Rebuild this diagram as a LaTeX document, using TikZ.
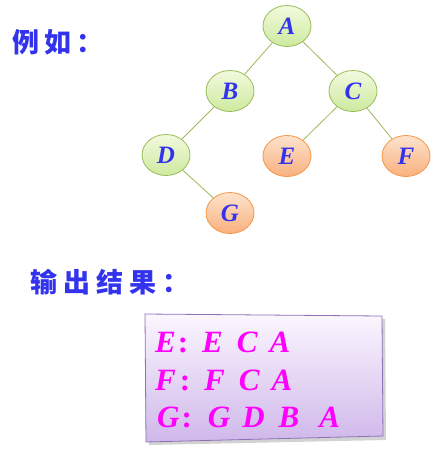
\documentclass[tikz,border=0pt]{standalone}
\usepackage{fontspec}
\setmainfont{Liberation Serif}
\newfontfamily\cjk{Noto Sans CJK SC}
\usetikzlibrary{shapes.geometric,shadows}
\definecolor{txtblue}{HTML}{3333EE}
\definecolor{mag}{HTML}{FF00FF}
\definecolor{gfill1}{HTML}{F2FADF}
\definecolor{gfill2}{HTML}{CDEA9E}
\definecolor{gdraw}{HTML}{9BBB59}
\definecolor{ofill1}{HTML}{FDE3CC}
\definecolor{ofill2}{HTML}{F9B07E}
\definecolor{odraw}{HTML}{F79646}
\definecolor{bfill1}{HTML}{FBF6FE}
\definecolor{bfill2}{HTML}{CFB8EA}
\definecolor{bdraw}{HTML}{8E72B6}
\tikzset{
  treenode/.style={ellipse, minimum width=48pt, minimum height=41pt, inner sep=0pt,
    line width=0.8pt, font=\fontsize{25}{27}\selectfont\bfseries\itshape, text=txtblue},
  gnode/.style={treenode, draw=gdraw, top color=gfill1, bottom color=gfill2},
  onode/.style={treenode, draw=odraw, top color=ofill1, bottom color=ofill2},
  edge/.style={draw=gdraw, line width=0.8pt},
  cjklabel/.style={anchor=west, inner sep=0pt, text=txtblue, font=\cjk\fontsize{27}{30}\selectfont\bfseries},
  resrow/.style={anchor=base west, inner sep=0pt, text=mag, font=\fontsize{31}{34}\selectfont\bfseries\itshape}
}
\begin{document}
\begin{tikzpicture}[x=1pt,y=-1pt]
\useasboundingbox (0,0) rectangle (438,451);
\coordinate (pA) at (287,26);
\coordinate (pB) at (230,91);
\coordinate (pC) at (353,91);
\coordinate (pD) at (166,155);
\coordinate (pE) at (287,156);
\coordinate (pF) at (406,156);
\coordinate (pG) at (230,213);
\node[gnode] (A) at (pA) {A};
\node[gnode] (B) at (pB) {B};
\node[gnode] (C) at (pC) {C};
\node[gnode] (D) at (pD) {D};
\node[onode] (E) at (pE) {E};
\node[onode] (F) at (pF) {F};
\node[onode] (G) at (pG) {G};
\draw[edge] (A) -- (B);
\draw[edge] (A) -- (C);
\draw[edge] (B) -- (D);
\draw[edge] (C) -- (E);
\draw[edge] (C) -- (F);
\draw[edge] (D) -- (G);
\node[cjklabel] (ex) at (12,42) {例\hspace{5pt}如\hspace{5pt}：};
\node[cjklabel] (out) at (30,282) {输\hspace{6pt}出\hspace{6pt}结\hspace{6pt}果\hspace{6pt}：};
% result box
\fill[black!35, opacity=0.5] (148,318) -- (385,319) -- (386,440) -- (149,445) -- cycle;
\path[draw=bdraw, line width=0.8pt, top color=bfill1, bottom color=bfill2]
  (145,314) -- (382,316) -- (383,436) -- (146,442) -- cycle;
\node[resrow] (r1) at (155,352) {E\hspace{2pt}\upshape:\hspace{14pt}\itshape E\hspace{14pt}C\hspace{12pt}A};
\node[resrow] (r2) at (155,390) {F\hspace{4pt}\upshape:\hspace{14pt}\itshape F\hspace{14pt}C\hspace{12pt}A};
\node[resrow] (r3) at (157,427) {G\hspace{2pt}\upshape:\hspace{16pt}\itshape G\hspace{12pt}D\hspace{14pt}B\hspace{20pt}A};
\end{tikzpicture}
\end{document}
